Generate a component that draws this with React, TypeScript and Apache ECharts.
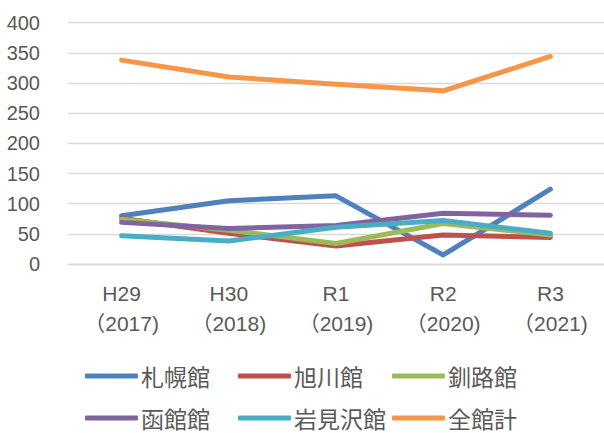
import React, { useEffect, useRef } from "react";
import * as echarts from "echarts";

const categories = ["H29\n（2017)", "H30\n（2018)", "R1\n（2019)", "R2\n（2020)", "R3\n（2021)"];
const yTicks = [0, 400, 50];
const seriesNames = ["札幌館", "旭川館", "釧路館", "函館館", "岩見沢館", "全館計"];
const sapporo = [80, 105, 113, 15, 124];
const asahikawa = [76, 51, 30, 48, 44];
const kushiro = [74, 56, 34, 67, 48];
const hakodate = [69, 59, 64, 84, 81];
const iwamizawa = [47, 38, 61, 72, 51];
const total = [338, 310, 298, 287, 344];
const colors = ["#4F81BD", "#C0504D", "#9BBB59", "#8064A2", "#4BACC6", "#F79646"];

export default function App() {
  const ref = useRef<HTMLDivElement>(null);
  useEffect(() => {
    if (!ref.current) return;
    const chart = echarts.init(ref.current, null, { renderer: "svg" });
    const values = [sapporo, asahikawa, kushiro, hakodate, iwamizawa, total];
    const textColor = "#595959";
    const colLefts = [85, 238, 392];
    const rowTops = [363, 405];
    const legends = seriesNames.map((name, i) => ({
      data: [name],
      orient: "horizontal",
      left: colLefts[i % 3],
      top: rowTops[Math.floor(i / 3)],
      itemWidth: 53,
      itemHeight: 5,
      icon: "roundRect",
      padding: 0,
      textStyle: {
        color: textColor,
        fontSize: 23,
        lineHeight: 26,
        fontFamily: "'Noto Sans CJK JP', sans-serif",
        padding: [0, 0, 0, -2],
      },
    }));
    chart.setOption({
      animation: false,
      color: colors,
      grid: { left: 68, top: 22.7, bottom: 169, right: -15, containLabel: false },
      legend: legends,
      xAxis: {
        type: "category",
        data: categories,
        boundaryGap: true,
        axisLine: { show: true, lineStyle: { color: "#D9D9D9", width: 1.3 } },
        axisTick: { show: false },
        axisLabel: {
          color: textColor,
          fontSize: 21,
          lineHeight: 30,
          margin: 14,
          fontFamily: "'Liberation Sans', 'Noto Sans CJK JP', sans-serif",
          interval: 0,
        },
      },
      yAxis: {
        type: "value",
        min: yTicks[0],
        max: yTicks[1],
        interval: yTicks[2],
        axisLine: { show: false },
        axisTick: { show: false },
        splitLine: { lineStyle: { color: "#D9D9D9", width: 1.3 } },
        axisLabel: {
          color: textColor,
          fontSize: 20,
          margin: 28,
          fontFamily: "'Liberation Sans', sans-serif",
        },
      },
      series: seriesNames.map((name, i) => ({
        name,
        type: "line",
        data: values[i],
        symbol: "none",
        lineStyle: { width: 5, cap: "round", join: "round", color: colors[i] },
        itemStyle: { color: colors[i] },
      })),
    });
    return () => chart.dispose();
  }, []);
  return (
    <div
      ref={ref}
      style={{ position: "fixed", left: 0, top: 0, width: 604, height: 433, background: "#fff" }}
    />
  );
}
